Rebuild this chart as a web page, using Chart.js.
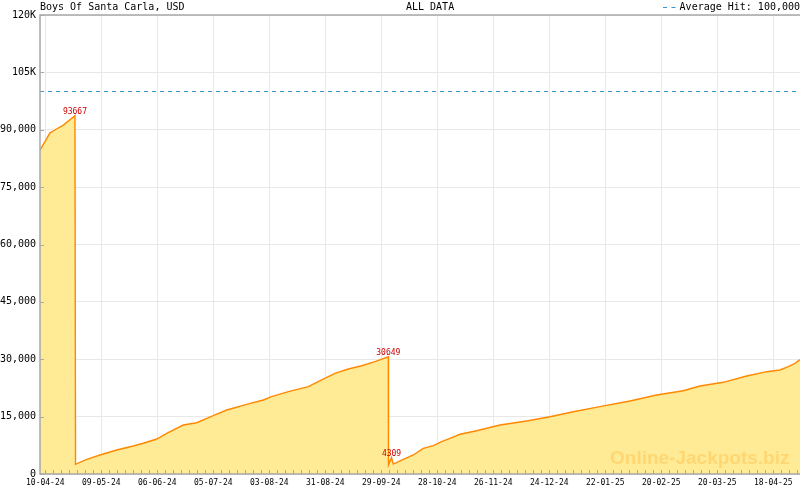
<!DOCTYPE html>
<html>
<head>
<meta charset="utf-8">
<script src="https://cdn.jsdelivr.net/npm/chart.js@4.4.0/dist/chart.umd.min.js"></script>
<style>
  html, body { margin: 0; padding: 0; background: #fff; }
  canvas { display: block; }
</style>
</head>
<body>
<canvas id="jackpotChart" width="800" height="490"></canvas>
<script>
// Boys Of Santa Carla jackpot history, x = sample number (one sample every ~4 days)
const sampleNo = [
  -0.66, -0.04, 0.59, 1.09, 2.25, 3.71,
  3.78, 5.18, 6.84, 8.93, 11.0, 12.25, 13.93, 15.18, 17.25, 18.93, 21.0, 22.68, 25.18,
  27.25, 28.3, 30.38, 32.88, 34.55, 36.21, 37.88, 39.55, 41.21, 42.88,
  42.9, 43.28, 43.5, 44.75, 46.0, 47.25, 48.5, 49.55, 50.59, 51.84, 53.93, 56.84,
  60.18, 63.09, 66.0, 69.34, 73.09, 76.43, 79.75, 81.84, 84.75, 87.68, 90.18,
  91.84, 92.88, 93.71, 94.34
];
const jackpotUsd = [
  84700, 86900, 89200, 89800, 91200, 93667,
  2540, 3840, 4970, 6280, 7320, 8030, 9150, 10640, 12810, 13410, 15240, 16730, 18220,
  19350, 20210, 21520, 22820, 24580, 26330, 27450, 28310, 29360, 30649,
  2350, 4309, 2610, 3840, 4970, 6720, 7400, 8450, 9330, 10380, 11320, 12810,
  13860, 14980, 16290, 17600, 19090, 20650, 21780, 23010, 23970, 25620, 26750,
  27190, 28050, 28940, 29900
];
const xTickPos = [0, 7, 14, 21, 28, 35, 42, 49, 56, 63, 70, 77, 84, 91];
const xTickLabels = ['10-04-24', '09-05-24', '06-06-24', '05-07-24', '03-08-24', '31-08-24', '29-09-24',
  '28-10-24', '26-11-24', '24-12-24', '22-01-25', '20-02-25', '20-03-25', '18-04-25'];
const yTickLabels = ['0', '15,000', '30,000', '45,000', '60,000', '75,000', '90,000', '105K', '120K'];
const averageHit = 100000;
const markedValues = [93667, 30649, 4309];
const sampleMin = -0.66;
const sampleMax = 94.34;

const mono = '"DejaVu Sans Mono", monospace';

// extra drawing: minor ticks, frame, header texts, value marks, watermark
const decor = {
  id: 'decor',
  afterDatasetsDraw(chart) {
    const { ctx, chartArea: a, scales: { x, y } } = chart;
    ctx.save();

    ctx.strokeStyle = '#aaaaaa';
    ctx.lineWidth = 1;
    ctx.beginPath();
    for (let s = Math.ceil(sampleMin); s <= sampleMax; s++) {
      const px = Math.round(x.getPixelForValue(s)) + 0.5;
      ctx.moveTo(px, a.bottom);
      ctx.lineTo(px, a.bottom - 4);
    }
    y.ticks.forEach(t => {
      const py = Math.round(y.getPixelForValue(t.value)) + 0.5;
      ctx.moveTo(a.left, py);
      ctx.lineTo(a.left + 4, py);
    });
    ctx.stroke();

    ctx.strokeStyle = '#a8a8a8';
    ctx.lineWidth = 1.5;
    ctx.beginPath();
    ctx.moveTo(a.right, a.top);
    ctx.lineTo(a.left, a.top);
    ctx.lineTo(a.left, a.bottom);
    ctx.lineTo(a.right, a.bottom);
    ctx.stroke();

    // header
    ctx.fillStyle = '#000';
    ctx.font = '10px ' + mono;
    ctx.textBaseline = 'alphabetic';
    ctx.textAlign = 'left';
    ctx.fillText('Boys Of Santa Carla, USD', a.left, 10);
    ctx.fillText('ALL DATA', 406, 10);
    ctx.textAlign = 'right';
    ctx.fillText('Average Hit: 100,000', chart.width, 10);
    ctx.strokeStyle = '#3399cc';
    ctx.lineWidth = 1;
    ctx.beginPath();
    ctx.moveTo(663, 7.5); ctx.lineTo(667, 7.5);
    ctx.moveTo(671.5, 7.5); ctx.lineTo(675.5, 7.5);
    ctx.stroke();

    // labelled values
    ctx.fillStyle = '#cc0000';
    ctx.font = '8px ' + mono;
    ctx.textAlign = 'center';
    markedValues.forEach(v => {
      const i = jackpotUsd.indexOf(v);
      const px = x.getPixelForValue(sampleNo[i]);
      const py = y.getPixelForValue(v);
      ctx.fillText(String(v), px, py - 2);
    });

    // watermark
    ctx.fillStyle = 'rgba(255, 192, 70, 0.45)';
    ctx.font = 'bold 19px "Liberation Sans", Arial, sans-serif';
    ctx.textAlign = 'left';
    ctx.fillText('Online-Jackpots.biz', 610, 464);

    ctx.restore();
  }
};

new Chart(document.getElementById('jackpotChart').getContext('2d'), {
  type: 'line',
  data: {
    datasets: [
      {
        label: 'Jackpot',
        data: sampleNo.map((s, i) => ({ x: s, y: jackpotUsd[i] })),
        borderColor: '#ff8800',
        borderWidth: 1.4,
        backgroundColor: '#ffea96',
        fill: 'origin',
        pointRadius: 0,
        tension: 0,
        order: 2
      },
      {
        label: 'Average Hit',
        data: [{ x: sampleMin, y: averageHit }, { x: sampleMax, y: averageHit }],
        borderColor: '#3399cc',
        borderWidth: 1,
        borderDash: [4, 4],
        fill: false,
        pointRadius: 0,
        order: 1
      }
    ]
  },
  options: {
    responsive: false,
    devicePixelRatio: 1,
    animation: false,
    layout: { padding: { top: 15, left: 0, right: 0, bottom: 0 } },
    plugins: {
      legend: { display: false },
      tooltip: { enabled: false }
    },
    scales: {
      x: {
        type: 'linear',
        min: sampleMin,
        max: sampleMax,
        afterBuildTicks: scale => { scale.ticks = xTickPos.map(v => ({ value: v })); },
        afterFit: scale => { scale.height = 16; },
        grid: { color: '#e8e8e8', drawTicks: false },
        border: { display: false },
        ticks: {
          autoSkip: false,
          maxRotation: 0,
          padding: 4,
          color: '#000',
          font: { family: mono, size: 8 },
          callback: (v, i) => xTickLabels[i]
        }
      },
      y: {
        min: 0,
        max: 120000,
        afterFit: scale => { scale.width = 40; },
        grid: { color: '#e8e8e8', drawTicks: false },
        border: { display: false },
        ticks: {
          stepSize: 15000,
          padding: 4,
          color: '#000',
          font: { family: mono, size: 10 },
          callback: (v, i) => yTickLabels[i]
        }
      }
    }
  },
  plugins: [decor]
});
</script>
</body>
</html>
